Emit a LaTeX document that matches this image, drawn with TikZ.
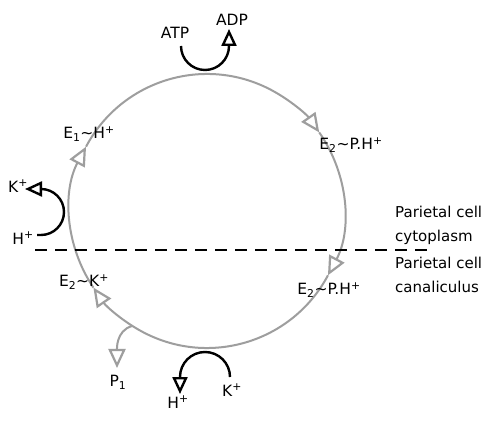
\documentclass[tikz,border=0pt]{standalone}
\usepackage{fontspec}
\setmainfont{DejaVu Sans}
\usetikzlibrary{arrows.meta,calc}
\begin{document}
\begin{tikzpicture}[x=1pt,y=1pt,
  lbl/.style={font=\fontsize{15.5}{24}\selectfont, inner sep=0pt},
  side/.style={font=\fontsize{15}{24}\selectfont, inner sep=0pt},
  cyc/.style={draw=black!38, line width=2pt},
  otip/.style={-{Triangle[open,length=17pt,width=15pt]}},
  ctip/.style={-{Triangle[open,length=19pt,width=17pt,line width=2.2pt]}},
  rxn/.style={draw=black, line width=2.4pt},
  membrane/.style={draw=black, line width=2.2pt, dash pattern=on 12pt off 8pt}]
\useasboundingbox (0,0) rectangle (492,420);
\fill[white] (0,0) rectangle (492,420);
% cycle
\coordinate (O) at (207,209);
\coordinate (c1) at ($(O)+(152:137)$);
\coordinate (c2) at ($(O)+(35:137)$);
\coordinate (c3) at ($(O)+(-28:137)$);
\coordinate (c4) at ($(O)+(-146:137)$);
\coordinate (cp) at ($(O)+(-123:137)$);
\draw[cyc,ctip] (c1) arc[start angle=152, end angle=35, radius=137];
\draw[cyc,ctip] (c2) arc[start angle=35, end angle=-28, radius=137];
\draw[cyc,ctip] (c3) arc[start angle=-28, end angle=-146, radius=137];
\draw[cyc,ctip] (c4) arc[start angle=-146, end angle=-208, radius=137];
% membrane
\coordinate (m1) at (35,170);
\coordinate (m2) at (430,170);
\draw[membrane] (m1) -- (m2);
% labels
\node[lbl] (e1h) at (89,286) {E\textsubscript{1}\textasciitilde H\textsuperscript{+}};
\node[lbl] (e2ph1) at (351,275) {E\textsubscript{2}\textasciitilde P.H\textsuperscript{+}};
\node[lbl] (e2ph2) at (329,130) {E\textsubscript{2}\textasciitilde P.H\textsuperscript{+}};
\node[lbl] (e2k) at (84,138) {E\textsubscript{2}\textasciitilde K\textsuperscript{+}};
\node[side,anchor=west,align=left] (cyto) at (395,195) {Parietal cell\\cytoplasm};
\node[side,anchor=west,align=left] (cana) at (395,145) {Parietal cell\\canaliculus};
\node[lbl] (atp) at (175,387) {ATP};
\node[lbl] (adp) at (232,400) {ADP};
\node[lbl] (kl) at (18,234) {K\textsuperscript{+}};
\node[lbl] (hl) at (23,182) {H\textsuperscript{+}};
\node[lbl] (kb) at (232,30) {K\textsuperscript{+}};
\node[lbl] (hb) at (178,18) {H\textsuperscript{+}};
\node[lbl] (p1) at (118,38) {P\textsubscript{1}};
% P1 branch
\coordinate (p1t) at (117,52);
\draw[cyc,ctip] (cp) to[out=195,in=90] (p1t);
% ATP -> ADP
\coordinate (a1) at (181,374);
\draw[rxn,otip] (a1) arc[start angle=180, end angle=360, radius=24] -- ++(0,17);
% H+ -> K+ (left)
\coordinate (l1) at (37,185);
\draw[rxn,otip] (l1) -- (41,185) arc[start angle=-90, end angle=90, radius=23] -- ++(-16,0);
% K+ -> H+ (bottom)
\coordinate (b1) at (230,43);
\draw[rxn,otip] (b1) arc[start angle=0, end angle=180, radius=25] -- ++(0,-17);
\end{tikzpicture}
\end{document}
